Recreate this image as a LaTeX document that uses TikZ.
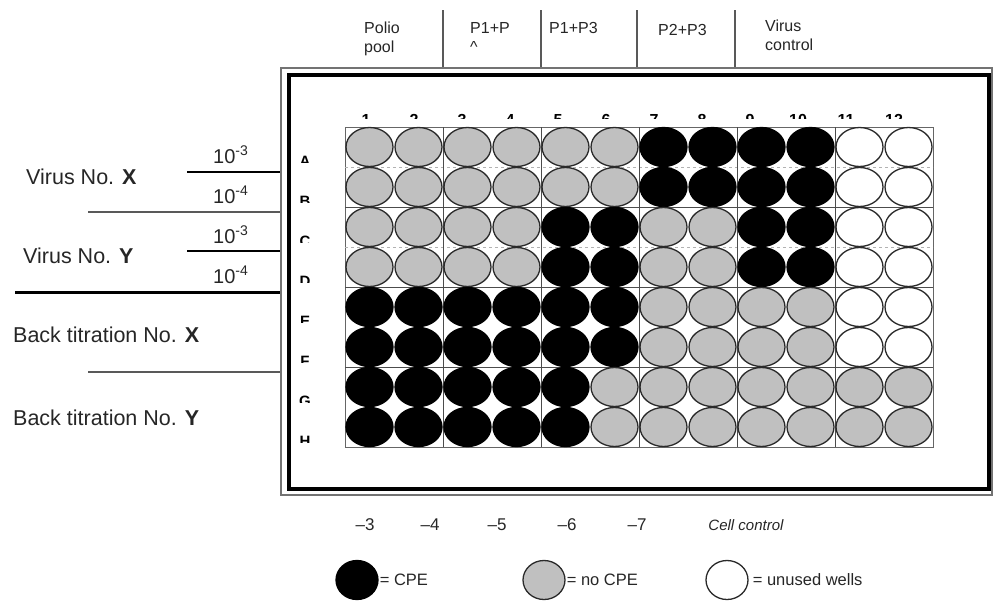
\documentclass[tikz,border=0pt]{standalone}
\usepackage{fontspec}
\setmainfont{Liberation Sans}
\usetikzlibrary{shapes.geometric}
\definecolor{wellgray}{HTML}{C0C0C0}
\definecolor{rim}{HTML}{2A2A2A}
\begin{document}
\begin{tikzpicture}[x=1pt,y=-1pt,
  wellbase/.style={ellipse, minimum width=47pt, minimum height=39pt, inner sep=0pt, line width=1.3pt},
  wellg/.style={wellbase, draw=rim, fill=wellgray},
  wellb/.style={wellbase, draw=black, fill=black},
  wellw/.style={wellbase, draw=rim, fill=white},
  lab/.style={inner sep=0pt, text=black!85},
  biglab/.style={lab, font=\fontsize{20}{22}\selectfont},
  namelab/.style={lab, font=\fontsize{21.5}{24}\selectfont, anchor=base west},
  toplab/.style={lab, font=\fontsize{16}{19}\selectfont, align=left, anchor=north west},
  botlab/.style={lab, font=\fontsize{17}{20}\selectfont, anchor=base},
  leglab/.style={lab, font=\fontsize{16.5}{20}\selectfont, anchor=west},
  tinylab/.style={inner sep=0pt, font=\fontsize{16}{16}\selectfont\bfseries, anchor=base},
  gridline/.style={draw=black!70, line width=0.9pt},
  faintline/.style={draw=black!30, line width=0.8pt, dashed},
  conn/.style={draw=black, line width=1.2pt},
  conngray/.style={draw=black!65, line width=1.2pt},
  connthick/.style={draw=black, line width=3pt}
]
\useasboundingbox (0,0) rectangle (993,605);

% frame
\node[draw=black!55, line width=1.5pt, minimum width=711pt, minimum height=427pt, inner sep=0pt] (frameout) at (636.5,281.5) {};
\node[draw=black, line width=3.5pt, minimum width=700pt, minimum height=414pt, inner sep=0pt] (frame) at (639,282) {};

% plate grid
\node[draw=black!60, line width=0.9pt, minimum width=588pt, minimum height=320pt, inner sep=0pt] (plate) at (639,287) {};
\foreach \y in {167,247} { \draw[faintline] (345,\y) -- (933,\y); }
\foreach \y in {207,287,367} { \draw[gridline] (345,\y) -- (933,\y); }
\foreach \x in {443,541,639,737,835} { \draw[gridline] (\x,127) -- (\x,447); }

% wells
\foreach \r/\pat in {1/{g,g,g,g,g,g,b,b,b,b,w,w},
                     2/{g,g,g,g,g,g,b,b,b,b,w,w},
                     3/{g,g,g,g,b,b,g,g,b,b,w,w},
                     4/{g,g,g,g,b,b,g,g,b,b,w,w},
                     5/{b,b,b,b,b,b,g,g,g,g,w,w},
                     6/{b,b,b,b,b,b,g,g,g,g,w,w},
                     7/{b,b,b,b,b,g,g,g,g,g,g,g},
                     8/{b,b,b,b,b,g,g,g,g,g,g,g}} {
  \foreach \s [count=\j] in \pat {
    \node[well\s] (w\r-\j) at ({345+49*(\j-0.5)},{127+40*(\r-0.5)}) {};
  }
}

% column numbers (top halves only)
\begin{scope}
  \clip (340,100) rectangle (930,118.5);
  \foreach \n in {1,...,12} {
    \node[tinylab] (cn\n) at ({366+48*(\n-1)},125) {\n};
  }
\end{scope}

% row letters (top halves only)
\foreach \L [count=\r] in {A,B,C,D,E,F,G,H} {
  \begin{scope}
    \clip (293,{153+40*(\r-1)}) rectangle (317,{162+40*(\r-1)});
    \node[tinylab, font=\fontsize{15}{15}\selectfont\bfseries] (rl\r) at (305,{166+40*(\r-1)}) {\L};
  \end{scope}
}

% top labels
\node[toplab] (t1) at (364,22) {Polio\\pool};
\node[toplab] (t2) at (470,22) {P1+P\\\textasciicircum};
\node[toplab] (t3) at (549,22) {P1+P3};
\node[toplab] (t4) at (658,24) {P2+P3};
\node[toplab] (t5) at (765,20) {Virus\\control};
\foreach \x [count=\i] in {443,541,637,735} {
  \coordinate (dv\i) at (\x,10);
  \draw[conngray] (dv\i) -- (dv\i |- frameout.north);
}

% left labels and lines
\node[biglab, anchor=base west] (e1) at (213,163) {10\textsuperscript{-3}};
\node[biglab, anchor=base west] (e2) at (213,203) {10\textsuperscript{-4}};
\node[biglab, anchor=base west] (e3) at (213,243) {10\textsuperscript{-3}};
\node[biglab, anchor=base west] (e4) at (213,283) {10\textsuperscript{-4}};
\node[namelab] (vx) at (26,184) {Virus No. \textbf{X}};
\node[namelab] (vy) at (23,263) {Virus No. \textbf{Y}};
\node[namelab] (bx) at (13,342) {Back titration No. \textbf{X}};
\node[namelab] (by) at (13,425) {Back titration No. \textbf{Y}};

\coordinate (h1) at (187,172);
\coordinate (h2) at (88,212);
\coordinate (h3) at (187,251);
\coordinate (h4) at (15,292);
\coordinate (h5) at (88,372);
\draw[conn] (h1) -- (h1 -| frameout.west);
\draw[conngray] (h2) -- (h2 -| frameout.west);
\draw[conn] (h3) -- (h3 -| frameout.west);
\draw[connthick] (h4) -- (h4 -| frameout.west);
\draw[conngray] (h5) -- (h5 -| frameout.west);

% bottom labels
\node[botlab] (b3) at (365,530) {–3};
\node[botlab] (b4) at (430,530) {–4};
\node[botlab] (b5) at (497,530) {–5};
\node[botlab] (b6) at (567,530) {–6};
\node[botlab] (b7) at (637,530) {–7};
\node[botlab, font=\fontsize{15}{18}\selectfont\itshape] (bc) at (746,530) {Cell control};

% legend
\node[wellb, minimum width=42pt, minimum height=39pt] (lgb) at (357,580) {};
\node[leglab] (lgbt) at ([xshift=1pt]lgb.east) {= CPE};
\node[wellg, minimum width=42pt, minimum height=39pt] (lgg) at (544,580) {};
\node[leglab] (lggt) at ([xshift=1pt]lgg.east) {= no CPE};
\node[wellw, minimum width=42pt, minimum height=39pt] (lgw) at (727,580) {};
\node[leglab] (lgwt) at ([xshift=4pt]lgw.east) {= unused wells};
\end{tikzpicture}
\end{document}
